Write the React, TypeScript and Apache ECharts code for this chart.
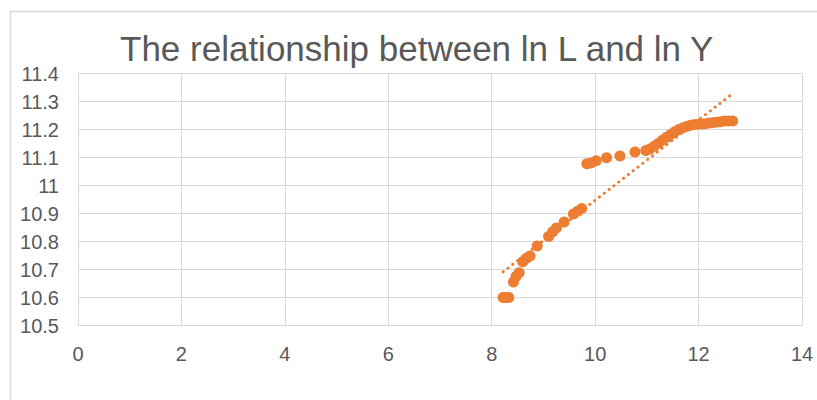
import React, { useEffect, useRef } from "react";
import * as echarts from "echarts";

const lnL = [
  8.22, 8.27, 8.33, 8.42, 8.47, 8.53, 8.6, 8.67, 8.74, 8.88, 9.1, 9.18, 9.25, 9.4, 9.58, 9.66, 9.74,
  9.84, 9.92, 10.02, 10.22, 10.48, 10.77, 10.98, 11.06, 11.14, 11.22, 11.3, 11.38, 11.46, 11.54,
  11.62, 11.7, 11.78, 11.86, 11.94, 12.02, 12.1, 12.18, 12.26, 12.34, 12.42, 12.5, 12.58, 12.66,
];
const lnY = [
  10.6, 10.6, 10.6, 10.655, 10.675, 10.688, 10.728, 10.74, 10.748, 10.784, 10.818, 10.835, 10.848,
  10.87, 10.898, 10.908, 10.918, 11.078, 11.08, 11.088, 11.099, 11.105, 11.12, 11.125, 11.13, 11.14,
  11.15, 11.162, 11.172, 11.182, 11.192, 11.2, 11.206, 11.212, 11.216, 11.218, 11.22, 11.22, 11.222,
  11.224, 11.226, 11.228, 11.23, 11.23, 11.23,
];
const titleText = "The relationship between ln L and ln Y";

export default function App() {
  const ref = useRef<HTMLDivElement>(null);
  useEffect(() => {
    document.body.style.margin = "0";
    if (!ref.current) return;
    const chart = echarts.init(ref.current, null, { renderer: "svg" });
    const pts = lnL.map((x, i) => [x, lnY[i]]);
    const n = lnL.length;
    const mx = lnL.reduce((a, b) => a + b, 0) / n;
    const my = lnY.reduce((a, b) => a + b, 0) / n;
    let sxy = 0, sxx = 0;
    for (let i = 0; i < n; i++) {
      sxy += (lnL[i] - mx) * (lnY[i] - my);
      sxx += (lnL[i] - mx) * (lnL[i] - mx);
    }
    const b = sxy / sxx;
    const a = my - b * mx;
    const x0 = Math.min(...lnL);
    const x1 = Math.max(...lnL);
    const trend = [[x0, a + b * x0], [x1, a + b * x1]];
    const labelStyle = { color: "#595959", fontSize: 20, fontFamily: "Liberation Sans, Arial, sans-serif" };
    chart.setOption({
      animation: false,
      backgroundColor: "#ffffff",
      title: {
        text: titleText,
        left: 120,
        top: 31,
        padding: 0,
        textStyle: { color: "#595959", fontSize: 35, fontWeight: "normal", fontFamily: "Liberation Sans, Arial, sans-serif" },
      },
      graphic: [
        {
          type: "rect",
          shape: { x: 10.5, y: 11.5, width: 900, height: 500 },
          style: { fill: "none", stroke: "#d9d9d9", lineWidth: 1.5 },
          silent: true,
        },
      ],
      grid: { left: 78, right: 15, top: 73.5, bottom: 74.5 },
      xAxis: {
        type: "value",
        min: 0,
        max: 14,
        interval: 2,
        axisLine: { show: true, lineStyle: { color: "#d9d9d9", width: 1 } },
        axisTick: { show: false },
        splitLine: { show: true, lineStyle: { color: "#d9d9d9", width: 1 } },
        axisLabel: { ...labelStyle, margin: 18 },
      },
      yAxis: {
        type: "value",
        min: 10.5,
        max: 11.4,
        interval: 0.1,
        axisLine: { show: true, lineStyle: { color: "#d9d9d9", width: 1 } },
        axisTick: { show: false },
        splitLine: { show: true, lineStyle: { color: "#d9d9d9", width: 1 } },
        axisLabel: {
          ...labelStyle,
          margin: 19,
          formatter: (v: number) => String(Math.round(v * 10) / 10),
        },
      },
      series: [
        {
          type: "line",
          data: trend,
          showSymbol: false,
          symbol: "none",
          lineStyle: { color: "#ED7D31", width: 3, type: [0.1, 6], cap: "round" },
          z: 1,
        },
        {
          type: "scatter",
          data: pts,
          symbolSize: 11,
          itemStyle: { color: "#ED7D31", opacity: 1 },
          z: 2,
        },
      ],
    });
    return () => chart.dispose();
  }, []);
  return <div ref={ref} style={{ width: 817, height: 400 }} />;
}
